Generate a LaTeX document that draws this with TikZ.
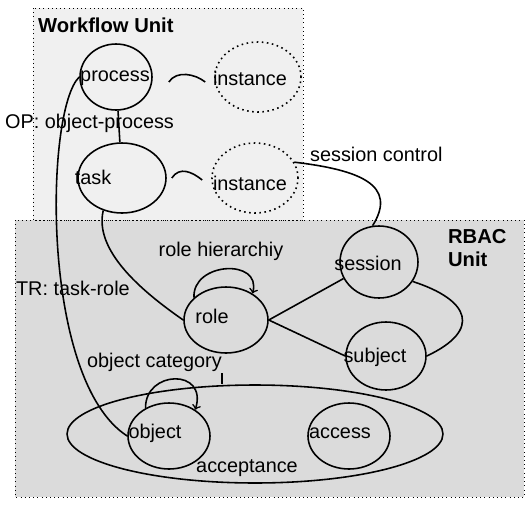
\documentclass[tikz,border=0pt]{standalone}
\usepackage{fontspec}
\setmainfont{Liberation Sans}
\usetikzlibrary{shapes.geometric}
\colorlet{wfback}{black!6}
\colorlet{rbback}{black!14}

\begin{document}
\begin{tikzpicture}[x=0.02cm,y=-0.02cm,
  unit/.style={draw,ellipse,inner sep=0pt,line width=0.9pt},
  inst/.style={unit,dotted},
  txt/.style={font=\fontsize{11.3}{13}\selectfont,inner sep=1pt},
  head/.style={font=\bfseries\fontsize{11.5}{13}\selectfont,inner sep=1pt,align=left},
  link/.style={line width=0.9pt},
  >=to]
\useasboundingbox (0,0) rectangle (525,505);

\fill[rbback] (15,220) rectangle (524,497);
\draw[dotted] (15,220) rectangle (524,497);
\fill[wfback] (33,8) rectangle (303,220);
\draw[dotted] (33,8) rectangle (303,220);

\node[head,anchor=west] (wfunit) at (36,25) {Workflow Unit};
\node[head,anchor=west] (rbacunit) at (446,248) {RBAC\\Unit};

\node[unit,minimum width=1.44cm,minimum height=1.32cm] (process) at (116,77) {};
\node[inst,minimum width=1.72cm,minimum height=1.4cm] (inst1) at (258,77) {};
\node[unit,minimum width=1.76cm,minimum height=1.4cm] (task) at (122,178) {};
\node[inst,minimum width=1.72cm,minimum height=1.4cm] (inst2) at (255,178) {};
\node[unit,minimum width=1.56cm,minimum height=1.44cm] (session) at (379,262) {};
\node[unit,minimum width=1.68cm,minimum height=1.32cm] (role) at (226,320) {};
\node[unit,minimum width=1.6cm,minimum height=1.36cm] (subject) at (386,356) {};
\node[unit,minimum width=7.52cm,minimum height=1.96cm] (accept) at (255,434) {};
\node[unit,minimum width=1.64cm,minimum height=1.32cm] (object) at (169,436) {};
\node[unit,minimum width=1.64cm,minimum height=1.32cm] (access) at (349,436) {};

\node[txt] (processlbl) at (115,78) {process};
\node[txt] (inst1lbl) at (250,78) {instance};
\node[txt] (tasklbl) at (93,177) {task};
\node[txt] (inst2lbl) at (250,183) {instance};
\node[txt] (sessionlbl) at (368,263) {session};
\node[txt] (rolelbl) at (212,316) {role};
\node[txt] (subjectlbl) at (375,357) {subject};
\node[txt] (objectlbl) at (155,433) {object};
\node[txt] (accesslbl) at (340,433) {access};

\node[txt,anchor=west] (oplbl) at (3,123) {OP: object-process};
\node[txt,anchor=west] (sclbl) at (308,154) {session control};
\node[txt] (rhlbl) at (221,251) {role hierarchiy};
\node[txt,anchor=west] (trlbl) at (14,288) {TR: task-role};
\node[txt,anchor=west] (objcat) at (85,362) {object category};
\node[txt] (acclbl) at (247,468) {acceptance};

\draw[link] (process) -- (task);
\draw[link] ([xshift=0.32cm,yshift=-0.1cm]process.east) .. controls +(8,-12) and +(-10,-8) .. ([xshift=-0.18cm,yshift=-0.1cm]inst1.west);
\draw[link] ([xshift=0.1cm]task.east) .. controls +(8,-12) and +(-10,-8) .. ([xshift=-0.18cm,yshift=-0.04cm]inst2.west);
\draw[link] (inst2.22) .. controls (360,170) and (398,185) .. (session.100);
\draw[link] (task.240) .. controls (94,250) and (140,290) .. (role.west);
\draw[link] (role.east) -- (session.205);
\draw[link] (role.east) -- (subject.west);
\draw[link] (session.330) .. controls (470,300) and (482,330) .. (subject.east);
\draw[link] (object.west) .. controls (40,380) and (45,110) .. (process.west);
\draw[link,->] (role.145) .. controls (192,262) and (262,258) .. (role.45);
\draw[link,->] (object.130) .. controls (145,370) and (208,368) .. (object.45);
\draw[link] ([xshift=-0.04cm]objcat.south east) -- ([xshift=-0.04cm]objcat.south east |- accept.north);
\end{tikzpicture}
\end{document}
